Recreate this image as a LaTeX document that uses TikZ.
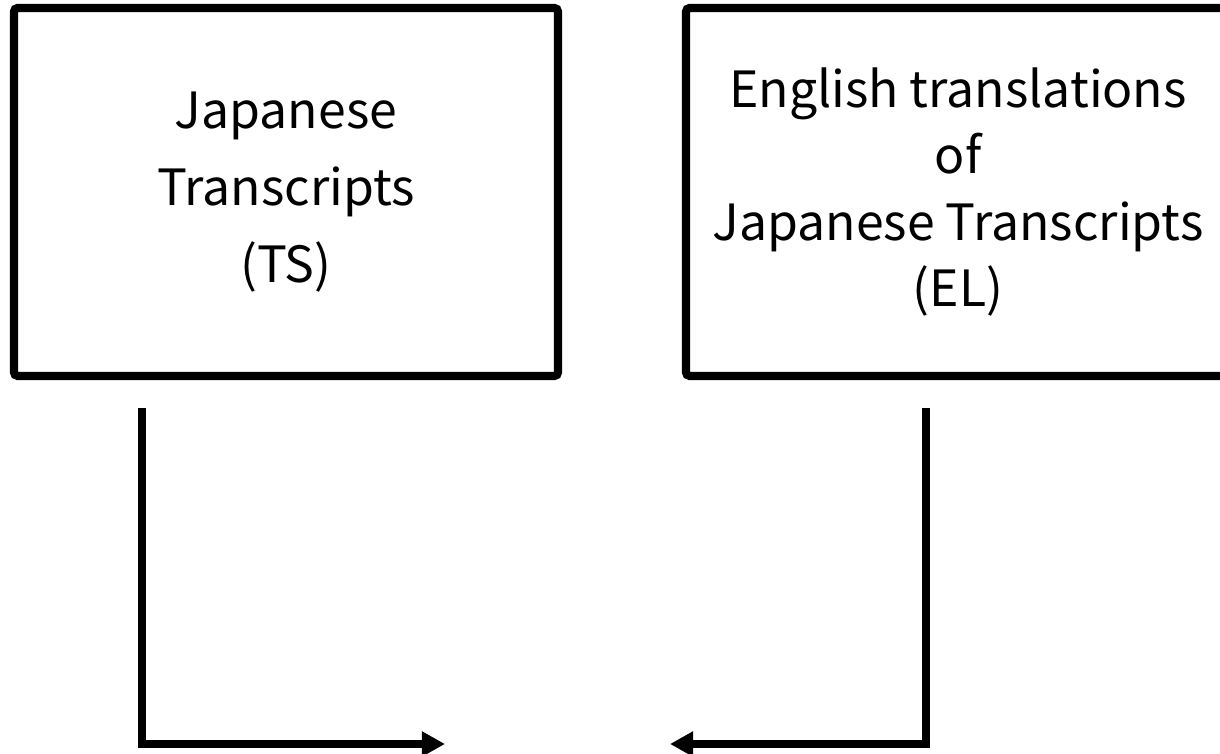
\documentclass[tikz,border=0pt]{standalone}
\usepackage{fontspec}
\newfontfamily\jpfont{Noto Sans CJK JP}
\usetikzlibrary{arrows.meta}
\tikzset{
  box/.style={draw, line width=2.3pt, rounded corners=1pt, minimum width=5.44cm,
    minimum height=3.68cm, align=center, inner sep=0pt},
  flow/.style={line width=2.3pt, -{Triangle[length=6.6pt,width=6.8pt]}}
}
\begin{document}
\begin{tikzpicture}
  \clip (0,0) rectangle (12.2,-7.54);
  \node[box, font=\jpfont\fontsize{14.2}{21.9}\selectfont] (ts) at (2.86,-1.92)
    {Japanese\\Transcripts\\(TS)};
  \node[box, font=\jpfont\fontsize{14.2}{18.8}\selectfont] (el) at (9.58,-1.92)
    {English translations\\of\\Japanese Transcripts\\(EL)};
  \coordinate (tsout) at (1.42,-4.08);
  \coordinate (elout) at (9.26,-4.08);
  \coordinate (tsin) at (4.45,-7.44);
  \coordinate (elin) at (6.70,-7.44);
  \begin{scope}[flow]
    \draw (tsout) |- (tsin);
    \draw (elout) |- (elin);
  \end{scope}
\end{tikzpicture}
\end{document}
